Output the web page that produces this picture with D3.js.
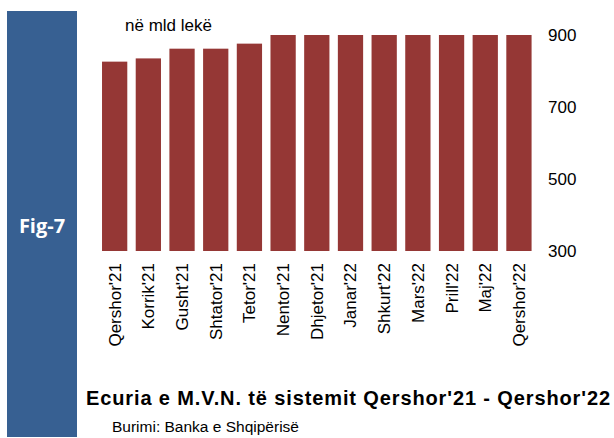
<!DOCTYPE html>
<html lang="sq">
<head>
<meta charset="UTF-8">
<script src="https://d3js.org/d3.v7.min.js"></script>
<style>
body { margin: 0; background: #fff; }
text { font-family: "Liberation Sans", Arial, sans-serif; fill: #000; }
</style>
</head>
<body>
<div id="chart"></div>
<script>
// data (mld leke)
var months = ["Qershor'21", "Korrik'21", "Gusht'21", "Shtator'21", "Tetor'21", "Nentor'21",
  "Dhjetor'21", "Janar'22", "Shkurt'22", "Mars'22", "Prill'22", "Maj'22", "Qershor'22"];
var values = [826, 835, 862, 862, 876, 900, 900, 900, 900, 900, 900, 900, 900];
var yTicks = [300, 500, 700, 900];

var W = 614, H = 438;

var svg = d3.select("#chart").append("svg")
  .attr("width", W)
  .attr("height", H);

// blue side panel
svg.append("rect")
  .attr("x", 7).attr("y", 11)
  .attr("width", 70).attr("height", 426)
  .attr("fill", "#376092");
svg.append("text")
  .attr("x", 42).attr("y", 226)
  .attr("text-anchor", "middle")
  .attr("dy", "0.35em")
  .style("font-family", "'Open Sans', sans-serif")
  .style("font-weight", "bold")
  .style("font-size", "20px")
  .style("fill", "#fff")
  .text("Fig-7");

var x = d3.scaleBand()
  .domain(months)
  .range([93.6, 540])
  .paddingInner(0.25)
  .paddingOuter(0.25);

var y = d3.scaleLinear()
  .domain([300, 900])
  .range([251, 35]);

svg.selectAll("rect.bar")
  .data(values)
  .enter().append("rect")
    .attr("class", "bar")
    .attr("x", function(d, i) { return x(months[i]); })
    .attr("y", function(d) { return y(d); })
    .attr("width", x.bandwidth())
    .attr("height", function(d) { return y(300) - y(d); })
    .attr("fill", "#953735");

// right axis, labels only
var yAxis = svg.append("g")
  .attr("transform", "translate(540,0)")
  .call(d3.axisRight(y).tickValues(yTicks).tickSize(0).tickPadding(8));
yAxis.select(".domain").remove();
yAxis.selectAll("text")
  .style("font-family", "'Liberation Sans', Arial, sans-serif")
  .style("font-size", "17px")
  .attr("fill", "#000");

// category labels, rotated
var xAxis = svg.append("g")
  .attr("transform", "translate(0,251)")
  .call(d3.axisBottom(x).tickSize(0).tickPadding(0));
xAxis.select(".domain").remove();
xAxis.selectAll("text")
  .style("font-family", "'Liberation Sans', Arial, sans-serif")
  .style("font-size", "17px")
  .attr("fill", "#000")
  .attr("text-anchor", "end")
  .attr("transform", "rotate(-90)")
  .attr("x", -12)
  .attr("y", 0)
  .attr("dy", "0.35em");

svg.append("text")
  .attr("x", 125).attr("y", 31)
  .style("font-size", "17px")
  .text("në mld lekë");

svg.append("text")
  .attr("x", 86).attr("y", 405)
  .attr("textLength", 524)
  .attr("lengthAdjust", "spacing")
  .style("font-size", "20px")
  .style("font-weight", "bold")
  .text("Ecuria e M.V.N. të sistemit Qershor'21 - Qershor'22");

svg.append("text")
  .attr("x", 112).attr("y", 432)
  .style("font-size", "15.5px")
  .text("Burimi: Banka e Shqipërisë");
</script>
</body>
</html>
